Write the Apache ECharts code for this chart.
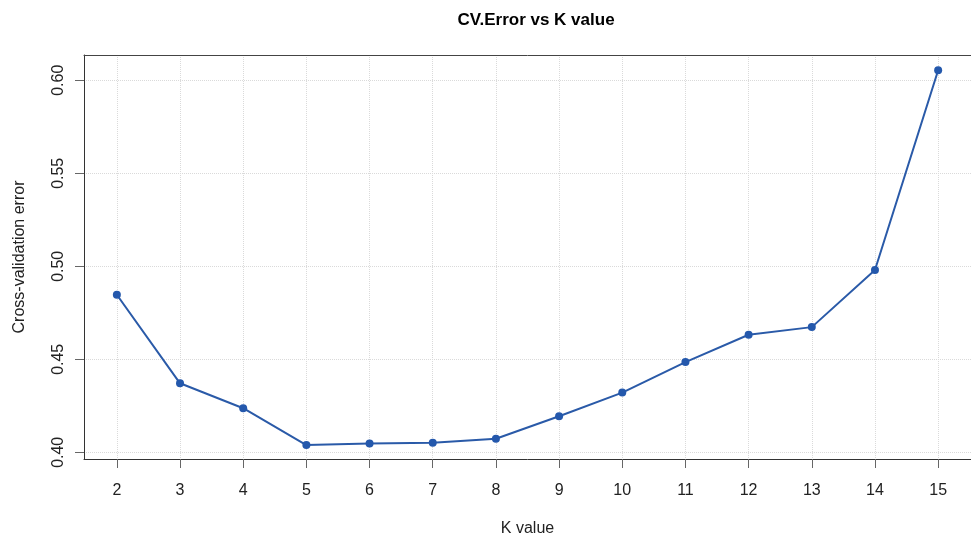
<!DOCTYPE html>
<html>
<head>
<meta charset="utf-8">
<script src="https://cdn.jsdelivr.net/npm/echarts@6/dist/echarts.min.js"></script>
<style>
html,body{margin:0;padding:0;background:#fff;}
#chart{width:971px;height:542px;}
</style>
</head>
<body>
<div id="chart"></div>
<script>
const kValues = [2, 3, 4, 5, 6, 7, 8, 9, 10, 11, 12, 13, 14, 15];
const cvError = [0.4847, 0.4371, 0.4237, 0.4039, 0.4048, 0.4051, 0.4073, 0.4194, 0.4321, 0.4485, 0.4632, 0.4673, 0.4980, 0.6054];
const yTicks = [0.40, 0.45, 0.50, 0.55, 0.60];

const chart = echarts.init(document.getElementById('chart'));
const font = 'Liberation Sans, Arial, sans-serif';
chart.setOption({
  backgroundColor: '#fff',
  animation: false,
  title: {
    text: 'CV.Error vs K value',
    left: 531, top: 7, textAlign: 'center',
    textStyle: {fontFamily: font, fontSize: 17, fontWeight: 'bold', color: '#000'}
  },
  grid: {
    left: 84, top: 55, width: 895, height: 405, show: false
  },
  xAxis: [{
    type: 'value', min: 1.48, max: 15.52,
    name: 'K value', nameLocation: 'middle', nameGap: 62,
    nameTextStyle: {fontFamily: font, fontSize: 16, color: '#222'},
    axisLine: {show: true, onZero: false, lineStyle: {color: '#333', width: 1}},
    axisTick: {show: true, length: 9, customValues: kValues, lineStyle: {color: '#666'}},
    axisLabel: {customValues: kValues, margin: 24, fontFamily: font, fontSize: 16, color: '#222'},
    splitLine: {show: true, lineStyle: {color: '#dadada', type: 'dotted', width: 1}}
  }, {
    type: 'value', min: 1.48, max: 15.52, position: 'top',
    axisLine: {show: true, onZero: false, lineStyle: {color: '#444', width: 1}},
    axisTick: {show: false}, axisLabel: {show: false}, splitLine: {show: false}
  }],
  yAxis: {
    type: 'value', min: 0.3964, max: 0.6136,
    name: 'Cross-validation error', nameLocation: 'middle', nameGap: 56,
    nameTextStyle: {fontFamily: font, fontSize: 16, color: '#222'},
    axisLine: {show: true, onZero: false, lineStyle: {color: '#333', width: 1}},
    axisTick: {show: true, length: 9, customValues: yTicks, lineStyle: {color: '#666'}},
    axisLabel: {customValues: yTicks, rotate: 90, margin: 17, fontFamily: font, fontSize: 16, color: '#222',
      formatter: v => v.toFixed(2)},
    splitLine: {show: true, lineStyle: {color: '#dadada', type: 'dotted', width: 1}}
  },
  series: [{
    type: 'line',
    xAxisIndex: 0,
    data: kValues.map((k, i) => [k, cvError[i]]),
    symbol: 'circle', symbolSize: 8,
    lineStyle: {color: '#2a5aa8', width: 2},
    itemStyle: {color: '#2458ac'}
  }]
});
</script>
</body>
</html>
